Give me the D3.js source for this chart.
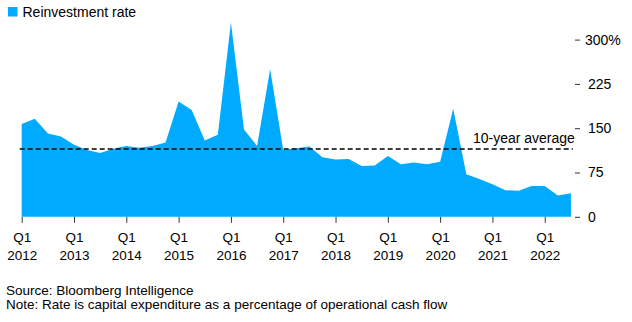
<!DOCTYPE html>
<html>
<head>
<meta charset="utf-8">
<script src="https://cdn.jsdelivr.net/npm/d3@7"></script>
<style>
  body { margin: 0; background: #fff; }
  svg { display: block; font-family: "Liberation Sans", Arial, sans-serif; }
  .tick line { stroke: #333; }
</style>
</head>
<body>
<svg id="chart" width="632" height="322"></svg>
<script>
// quarterly data, Q1 2012 .. Q3 2022
const years = d3.range(2012, 2023);
const quarters = years.flatMap((y) => [1, 2, 3, 4].map((q) => `Q${q} ${y}`)).slice(0, 43);
const reinvestment = [
  157, 166, 141, 136, 122, 113, 108, 115, 120, 117, 120, 126,
  195, 181, 129, 139, 329, 148, 120, 250, 113, 116, 119, 101,
  97, 98, 86, 87, 103, 89, 92, 89, 93, 183, 72, 64,
  55, 45, 44, 52, 52, 36, 40,
];
const tenYearAverage = 114.8;
const yTicks = [0, 75, 150, 225, 300];
const xTickIdx = d3.range(0, 41, 4);

const svg = d3.select('#chart');
const areaColor = '#00aaff';

const x = d3.scaleLinear().domain([0, 42]).range([21.7, 570.9]);
const y = d3.scaleLinear().domain([0, 300]).range([216.8, 39.6]);

//
// Legend
//
svg.append('rect')
  .attr('x', 8).attr('y', 7).attr('width', 9.5).attr('height', 9.5)
  .attr('fill', areaColor);
svg.append('text')
  .attr('x', 22.5).attr('y', 17)
  .attr('font-size', 14).attr('fill', '#000')
  .text('Reinvestment rate');

//
// Area
//
const area = d3.area()
  .x((d, i) => x(i))
  .y0(y(0))
  .y1((d) => y(d));

svg.append('path')
  .datum(reinvestment)
  .attr('fill', areaColor)
  .attr('d', area);

//
// 10-year average
//
svg.append('line')
  .attr('x1', x(0) - 2).attr('x2', x(42) + 2)
  .attr('y1', y(tenYearAverage)).attr('y2', y(tenYearAverage))
  .attr('stroke', '#000')
  .attr('stroke-width', 1.4)
  .attr('stroke-dasharray', '5,3');

svg.append('text')
  .attr('x', x(42) + 4).attr('y', y(tenYearAverage) - 5.5)
  .attr('text-anchor', 'end')
  .attr('font-size', 14)
  .text('10-year average');

//
// Y axis (right)
//
const yAxis = svg.append('g')
  .attr('transform', 'translate(575,0)')
  .call(d3.axisRight(y).tickValues(yTicks).tickSize(5).tickPadding(8)
    .tickFormat((d) => (d === 300 ? '300%' : d)));
yAxis.select('.domain').remove();
yAxis.selectAll('text')
  .attr('font-size', 14)
  .attr('font-family', null)
  .attr('fill', '#000')
  .attr('x', (d) => (d === 300 ? 10 : 13));

//
// X axis
//
const xAxis = svg.append('g')
  .attr('transform', `translate(0,${y(0)})`)
  .call(d3.axisBottom(x).tickValues(xTickIdx).tickSize(6).tickFormat(() => ''));
xAxis.select('.domain').remove();
xAxis.selectAll('.tick text').remove();
xAxis.selectAll('.tick')
  .each(function (i) {
    const t = d3.select(this).append('text')
      .attr('text-anchor', 'middle')
      .attr('font-size', 13.5)
      .attr('fill', '#000');
    t.append('tspan').attr('x', 0).attr('y', 25.5).text(quarters[i].split(' ')[0]);
    t.append('tspan').attr('x', 0).attr('y', 43.2).text(quarters[i].split(' ')[1]);
  });

//
// Footnotes
//
svg.append('text')
  .attr('x', 6).attr('y', 295.3)
  .attr('font-size', 13.5)
  .text('Source: Bloomberg Intelligence');
svg.append('text')
  .attr('x', 6).attr('y', 309.3)
  .attr('font-size', 13.5)
  .text('Note: Rate is capital expenditure as a percentage of operational cash flow');
</script>
</body>
</html>
